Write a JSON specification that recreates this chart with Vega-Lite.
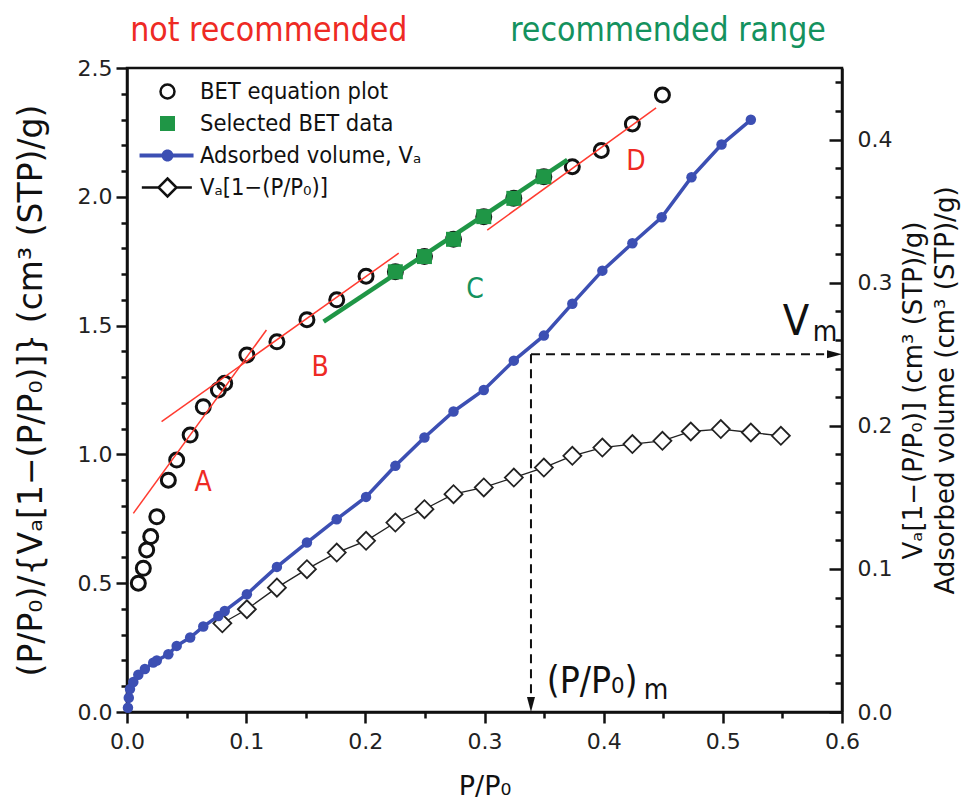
{
  "$schema": "https://vega.github.io/schema/vega-lite/v6.json",
  "width": 715,
  "height": 644,
  "autosize": {"type": "none"},
  "padding": {"left": 127, "top": 68, "right": 123, "bottom": 93},
  "background": "white",
  "config": {
    "view": {"stroke": "#111", "strokeWidth": 2.5},
    "font": "DejaVu Sans Condensed",
    "axis": {
      "labelFont": "DejaVu Sans",
      "titleFont": "DejaVu Sans",
      "labelFontSize": 22,
      "titleFontSize": 28,
      "titleFontWeight": "normal",
      "labelColor": "#222",
      "titleColor": "#111",
      "domainColor": "#111",
      "domainWidth": 2.5,
      "tickColor": "#111",
      "tickWidth": 2.5,
      "grid": false,
      "labelOverlap": false,
      "labelFlush": false,
      "labelBound": false
    },
    "legend": {"labelFont": "DejaVu Sans Condensed"},
    "text": {"font": "DejaVu Sans Condensed"}
  },
  "layer": [
    {
      "layer": [
        {
          "data": {"values": [
            {"series": "BET equation plot", "x": 0.0095, "y": 0.500},
            {"series": "BET equation plot", "x": 0.0137, "y": 0.558},
            {"series": "BET equation plot", "x": 0.0165, "y": 0.629},
            {"series": "BET equation plot", "x": 0.0199, "y": 0.681},
            {"series": "BET equation plot", "x": 0.025, "y": 0.758},
            {"series": "BET equation plot", "x": 0.0347, "y": 0.900},
            {"series": "BET equation plot", "x": 0.0417, "y": 0.978},
            {"series": "BET equation plot", "x": 0.053, "y": 1.075},
            {"series": "BET equation plot", "x": 0.064, "y": 1.185},
            {"series": "BET equation plot", "x": 0.0767, "y": 1.250},
            {"series": "BET equation plot", "x": 0.082, "y": 1.276},
            {"series": "BET equation plot", "x": 0.1006, "y": 1.386},
            {"series": "BET equation plot", "x": 0.1258, "y": 1.437},
            {"series": "BET equation plot", "x": 0.151, "y": 1.523},
            {"series": "BET equation plot", "x": 0.176, "y": 1.600},
            {"series": "BET equation plot", "x": 0.2006, "y": 1.692},
            {"series": "BET equation plot", "x": 0.2252, "y": 1.709},
            {"series": "BET equation plot", "x": 0.2496, "y": 1.768},
            {"series": "BET equation plot", "x": 0.274, "y": 1.835},
            {"series": "BET equation plot", "x": 0.2994, "y": 1.923},
            {"series": "BET equation plot", "x": 0.3246, "y": 1.994},
            {"series": "BET equation plot", "x": 0.3498, "y": 2.078},
            {"series": "BET equation plot", "x": 0.3737, "y": 2.117},
            {"series": "BET equation plot", "x": 0.398, "y": 2.180},
            {"series": "BET equation plot", "x": 0.4241, "y": 2.283},
            {"series": "BET equation plot", "x": 0.4493, "y": 2.395}
          ]},
          "mark": {"type": "point", "size": 576, "strokeWidth": 3, "opacity": 1},
          "encoding": {
            "x": {
              "field": "x", "type": "quantitative",
              "scale": {"domain": [0, 0.6], "nice": false, "zero": false},
              "axis": {
                "orient": "bottom",
                "title": "P/P₀",
                "titleFontSize": 27,
                "values": [0, 0.1, 0.2, 0.3, 0.4, 0.5, 0.6],
                "format": ".1f",
                "tickSize": 11,
                "labelPadding": 8,
                "titlePadding": 21
              }
            },
            "y": {
              "field": "y", "type": "quantitative",
              "scale": {"domain": [0, 2.5], "nice": false, "zero": false},
              "axis": {
                "orient": "left",
                "title": "(P/P₀)/{Vₐ[1−(P/P₀)]} (cm³ (STP)/g)",
                "titleFontSize": 33,
                "values": [0, 0.5, 1.0, 1.5, 2.0, 2.5],
                "format": ".1f",
                "tickSize": 11,
                "labelPadding": 4,
                "titlePadding": 29
              }
            },
            "fill": {
              "field": "series", "type": "nominal",
              "scale": {
                "domain": ["BET equation plot", "Selected BET data", "Adsorbed volume, Vₐ", "Vₐ[1−(P/P₀)]"],
                "range": ["transparent", "#1f9646", "#3c4fb3", "white"]
              },
              "legend": {"orient": "none", "legendX": 27, "legendY": 10, "title": null, "padding": 0, "labelFontSize": 23.5, "labelColor": "#111", "labelOffset": 19, "labelLimit": 400, "symbolSize": 576, "symbolStrokeWidth": 2.5, "rowPadding": 6}
            },
            "stroke": {
              "field": "series", "type": "nominal",
              "scale": {
                "domain": ["BET equation plot", "Selected BET data", "Adsorbed volume, Vₐ", "Vₐ[1−(P/P₀)]"],
                "range": ["#111111", "transparent", "transparent", "#111111"]
              },
              "legend": {"orient": "none", "legendX": 27, "legendY": 10, "title": null, "padding": 0, "labelFontSize": 23.5, "labelColor": "#111", "labelOffset": 19, "labelLimit": 400, "symbolSize": 576, "symbolStrokeWidth": 2.5, "rowPadding": 6}
            },
            "shape": {
              "field": "series", "type": "nominal",
              "scale": {
                "domain": ["BET equation plot", "Selected BET data", "Adsorbed volume, Vₐ", "Vₐ[1−(P/P₀)]"],
                "range": [
                  "M0.583,0A0.583,0.583,0,1,1,-0.583,0A0.583,0.583,0,1,1,0.583,0Z",
                  "M-0.625,-0.625H0.625V0.625H-0.625Z",
                  "M-2.33,-0.167H2.17V0.167H-2.33ZM0.5,0A0.5,0.5,0,1,1,-0.5,0A0.5,0.5,0,1,1,0.5,0Z",
                  "M-2.14,0H-0.75M0.75,0H2.03M0,-0.75L0.75,0L0,0.75L-0.75,0Z"
                ]
              },
              "legend": {"orient": "none", "legendX": 27, "legendY": 10, "title": null, "padding": 0, "labelFontSize": 23.5, "labelColor": "#111", "labelOffset": 19, "labelLimit": 400, "symbolSize": 576, "symbolStrokeWidth": 2.5, "rowPadding": 6}
            }
          }
        },
        {
          "data": {"values": [
            {"seg": "A", "x": 0.0053, "y": 0.771},
            {"seg": "A", "x": 0.117, "y": 1.483},
            {"seg": "B", "x": 0.029, "y": 1.127},
            {"seg": "B", "x": 0.228, "y": 1.781},
            {"seg": "D", "x": 0.3023, "y": 1.871},
            {"seg": "D", "x": 0.444, "y": 2.345}
          ]},
          "mark": {"type": "line", "color": "#ff3b30", "strokeWidth": 1.5},
          "encoding": {
            "x": {"field": "x", "type": "quantitative"},
            "y": {
              "field": "y", "type": "quantitative",
              "axis": {
                "orient": "left",
                "title": null,
                "labels": false,
                "domain": false,
                "values": [0.1, 0.2, 0.3, 0.4, 0.6, 0.7, 0.8, 0.9, 1.1, 1.2, 1.3, 1.4, 1.6, 1.7, 1.8, 1.9, 2.1, 2.2, 2.3, 2.4],
                "tickSize": 6
              }
            },
            "detail": {"field": "seg"}
          }
        },
        {
          "data": {"values": [
            {"seg": "C", "x": 0.165, "y": 1.515},
            {"seg": "C", "x": 0.3695, "y": 2.143}
          ]},
          "mark": {"type": "line", "color": "#1f9646", "strokeWidth": 4.5},
          "encoding": {
            "x": {"field": "x", "type": "quantitative"},
            "y": {"field": "y", "type": "quantitative", "axis": null}
          }
        },
        {
          "data": {"values": [
            {"x": 0.2252, "y": 1.709},
            {"x": 0.2496, "y": 1.768},
            {"x": 0.274, "y": 1.835},
            {"x": 0.2994, "y": 1.923},
            {"x": 0.3246, "y": 1.994},
            {"x": 0.3498, "y": 2.078}
          ]},
          "mark": {"type": "square", "filled": true, "size": 225, "color": "#1f9646", "opacity": 1},
          "encoding": {
            "x": {"field": "x", "type": "quantitative"},
            "y": {"field": "y", "type": "quantitative", "axis": null}
          }
        },
        {
          "data": {"values": [
            {"label": "A", "x": 0.0639, "y": 0.889},
            {"label": "B", "x": 0.162, "y": 1.335},
            {"label": "D", "x": 0.427, "y": 2.135}
          ]},
          "mark": {"type": "text", "color": "#ee2a24", "fontSize": 28, "align": "center", "baseline": "middle"},
          "encoding": {
            "x": {"field": "x", "type": "quantitative"},
            "y": {"field": "y", "type": "quantitative", "axis": null},
            "text": {"field": "label"}
          }
        },
        {
          "data": {"values": [
            {"label": "C", "x": 0.292, "y": 1.638}
          ]},
          "mark": {"type": "text", "color": "#14925e", "fontSize": 28, "align": "center", "baseline": "middle"},
          "encoding": {
            "x": {"field": "x", "type": "quantitative"},
            "y": {"field": "y", "type": "quantitative", "axis": null},
            "text": {"field": "label"}
          }
        },
        {
          "data": {"values": [
            {"label": "not recommended", "x": 0.119, "y": 2.644}
          ]},
          "mark": {"type": "text", "color": "#ee2a24", "fontSize": 33.5, "align": "center", "baseline": "middle"},
          "encoding": {
            "x": {"field": "x", "type": "quantitative"},
            "y": {"field": "y", "type": "quantitative", "axis": null},
            "text": {"field": "label"}
          }
        },
        {
          "data": {"values": [
            {"label": "recommended range", "x": 0.454, "y": 2.644}
          ]},
          "mark": {"type": "text", "color": "#14925e", "fontSize": 33.5, "align": "center", "baseline": "middle"},
          "encoding": {
            "x": {"field": "x", "type": "quantitative"},
            "y": {"field": "y", "type": "quantitative", "axis": null},
            "text": {"field": "label"}
          }
        }
      ],
      "resolve": {"axis": {"y": "independent"}}
    },
    {
      "layer": [
        {
          "data": {"values": [
            {"x": 0.08, "v": 0.062},
            {"x": 0.1006, "v": 0.0718},
            {"x": 0.1258, "v": 0.0869},
            {"x": 0.151, "v": 0.0998},
            {"x": 0.176, "v": 0.1114},
            {"x": 0.2006, "v": 0.1196},
            {"x": 0.2252, "v": 0.1324},
            {"x": 0.2496, "v": 0.1417},
            {"x": 0.274, "v": 0.1522},
            {"x": 0.2994, "v": 0.1569},
            {"x": 0.3246, "v": 0.1638},
            {"x": 0.3498, "v": 0.1708},
            {"x": 0.3737, "v": 0.179},
            {"x": 0.3989, "v": 0.1848},
            {"x": 0.4241, "v": 0.1872},
            {"x": 0.4493, "v": 0.1895},
            {"x": 0.4731, "v": 0.196},
            {"x": 0.4983, "v": 0.1977},
            {"x": 0.5235, "v": 0.1953},
            {"x": 0.5487, "v": 0.193}
          ]},
          "layer": [
            {
              "mark": {"type": "line", "color": "#222", "strokeWidth": 1.3},
              "encoding": {
                "x": {"field": "x", "type": "quantitative"},
                "y": {"field": "v", "type": "quantitative", "scale": {"domain": [0, 0.45], "nice": false, "zero": false}, "axis": null}
              }
            },
            {
              "mark": {"type": "point", "shape": "diamond", "filled": true, "fill": "white", "stroke": "#222", "strokeWidth": 1.8, "size": 324, "opacity": 1},
              "encoding": {
                "x": {"field": "x", "type": "quantitative"},
                "y": {"field": "v", "type": "quantitative", "axis": null}
              }
            }
          ]
        },
        {
          "data": {"values": [
            {"x": 0.0008, "v": 0.003},
            {"x": 0.0015, "v": 0.010},
            {"x": 0.0025, "v": 0.016},
            {"x": 0.0053, "v": 0.021},
            {"x": 0.0095, "v": 0.026},
            {"x": 0.015, "v": 0.030},
            {"x": 0.022, "v": 0.0345},
            {"x": 0.025, "v": 0.036},
            {"x": 0.0347, "v": 0.0403},
            {"x": 0.0417, "v": 0.0462},
            {"x": 0.053, "v": 0.052},
            {"x": 0.064, "v": 0.0597},
            {"x": 0.0767, "v": 0.0671},
            {"x": 0.082, "v": 0.0706},
            {"x": 0.1006, "v": 0.0823},
            {"x": 0.1258, "v": 0.1014},
            {"x": 0.151, "v": 0.1184},
            {"x": 0.176, "v": 0.1347},
            {"x": 0.2006, "v": 0.1503},
            {"x": 0.2252, "v": 0.172},
            {"x": 0.2496, "v": 0.1918},
            {"x": 0.274, "v": 0.21},
            {"x": 0.2994, "v": 0.225},
            {"x": 0.3246, "v": 0.2455},
            {"x": 0.3498, "v": 0.263},
            {"x": 0.3737, "v": 0.2853},
            {"x": 0.3989, "v": 0.3084},
            {"x": 0.4241, "v": 0.3275},
            {"x": 0.4487, "v": 0.3457},
            {"x": 0.4737, "v": 0.3737},
            {"x": 0.4989, "v": 0.3965},
            {"x": 0.5235, "v": 0.4138}
          ]},
          "mark": {"type": "line", "color": "#3c4fb3", "strokeWidth": 3.5, "point": {"filled": true, "size": 110, "color": "#3c4fb3"}},
          "encoding": {
            "x": {
              "field": "x", "type": "quantitative",
              "axis": {
                "orient": "bottom",
                "title": null,
                "labels": false,
                "domain": false,
                "values": [0.05, 0.15, 0.25, 0.35, 0.45, 0.55],
                "tickSize": 6
              }
            },
            "y": {
              "field": "v", "type": "quantitative",
              "scale": {"domain": [0, 0.45], "nice": false, "zero": false},
              "axis": {
                "orient": "right",
                "title": ["Vₐ[1−(P/P₀)] (cm³ (STP)/g)", "Adsorbed volume (cm³ (STP)/g)"],
                "titleAngle": -90,
                "titleFontSize": 26,
                "titleLineHeight": 32,
                "values": [0, 0.1, 0.2, 0.3, 0.4],
                "format": ".1f",
                "tickSize": -13,
                "labelPadding": 28,
                "titlePadding": 3
              }
            }
          }
        },
        {
          "data": {"values": [
            {"seg": "v", "x": 0.339, "v": 0.25},
            {"seg": "v", "x": 0.339, "v": 0.012},
            {"seg": "h", "x": 0.339, "v": 0.25},
            {"seg": "h", "x": 0.585, "v": 0.25}
          ]},
          "mark": {"type": "line", "color": "#111", "strokeWidth": 2, "strokeDash": [9, 6]},
          "encoding": {
            "x": {"field": "x", "type": "quantitative"},
            "y": {
              "field": "v", "type": "quantitative",
              "axis": {
                "orient": "right",
                "title": null,
                "labels": false,
                "domain": false,
                "values": [0.02, 0.04, 0.06, 0.08, 0.12, 0.14, 0.16, 0.18, 0.22, 0.24, 0.26, 0.28, 0.32, 0.34, 0.36, 0.38, 0.42, 0.44],
                "tickSize": -7
              }
            },
            "detail": {"field": "seg"}
          }
        },
        {
          "data": {"values": [{"x": 0.339, "v": 0}]},
          "mark": {"type": "point", "shape": "M0,0L-0.4,-1.5L0.4,-1.5Z", "filled": true, "color": "#111", "size": 400, "opacity": 1},
          "encoding": {
            "x": {"field": "x", "type": "quantitative"},
            "y": {"field": "v", "type": "quantitative", "axis": null}
          }
        },
        {
          "data": {"values": [{"x": 0.6, "v": 0.25}]},
          "mark": {"type": "point", "shape": "M0,0L-1.5,-0.4L-1.5,0.4Z", "filled": true, "color": "#111", "size": 400, "opacity": 1},
          "encoding": {
            "x": {"field": "x", "type": "quantitative"},
            "y": {"field": "v", "type": "quantitative", "axis": null}
          }
        },
        {
          "data": {"values": [{"label": "V", "x": 0.5613, "v": 0.2727}]},
          "mark": {"type": "text", "color": "#111", "fontSize": 43, "align": "center", "baseline": "middle"},
          "encoding": {
            "x": {"field": "x", "type": "quantitative"},
            "y": {"field": "v", "type": "quantitative", "axis": null},
            "text": {"field": "label"}
          }
        },
        {
          "data": {"values": [{"label": "m", "x": 0.5857, "v": 0.265}]},
          "mark": {"type": "text", "color": "#111", "fontSize": 28, "align": "center", "baseline": "middle"},
          "encoding": {
            "x": {"field": "x", "type": "quantitative"},
            "y": {"field": "v", "type": "quantitative", "axis": null},
            "text": {"field": "label"}
          }
        },
        {
          "data": {"values": [{"label": "(P/P₀)", "x": 0.3903, "v": 0.021}]},
          "mark": {"type": "text", "color": "#111", "fontSize": 37, "align": "center", "baseline": "middle"},
          "encoding": {
            "x": {"field": "x", "type": "quantitative"},
            "y": {"field": "v", "type": "quantitative", "axis": null},
            "text": {"field": "label"}
          }
        },
        {
          "data": {"values": [{"label": "m", "x": 0.444, "v": 0.015}]},
          "mark": {"type": "text", "color": "#111", "fontSize": 28, "align": "center", "baseline": "middle"},
          "encoding": {
            "x": {"field": "x", "type": "quantitative"},
            "y": {"field": "v", "type": "quantitative", "axis": null},
            "text": {"field": "label"}
          }
        }
      ],
      "resolve": {"axis": {"y": "independent"}}
    }
  ],
  "resolve": {"scale": {"y": "independent"}, "axis": {"x": "independent"}}
}
